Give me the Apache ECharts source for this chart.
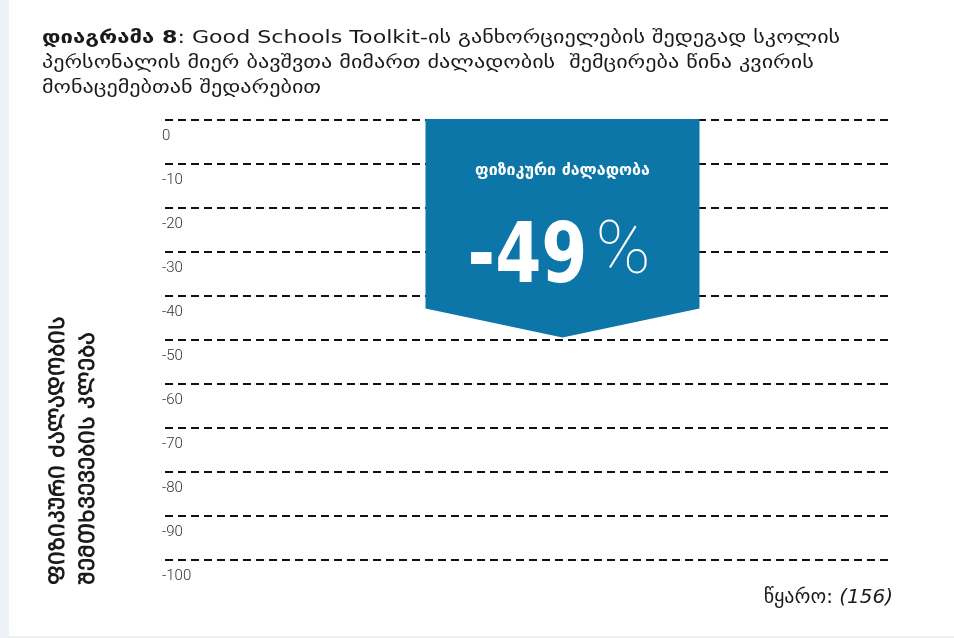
<!DOCTYPE html>
<html>
<head>
<meta charset="utf-8">
<script src="https://cdn.jsdelivr.net/npm/echarts@6/dist/echarts.min.js"></script>
<style>html,body{margin:0;padding:0;background:#fff}#c{width:954px;height:638px}</style>
</head>
<body>
<div id="c"></div>
<script>
var categories = ['ფიზიკური ძალადობა'];
var values = [-49];
var yTicks = [0, -10, -20, -30, -40, -50, -60, -70, -80, -90, -100];
var titleBold = 'დიაგრამა 8';
var titleLines = [
  ': Good Schools Toolkit-ის განხორციელების შედეგად სკოლის',
  'პერსონალის მიერ ბავშვთა მიმართ ძალადობის  შემცირება წინა კვირის',
  'მონაცემებთან შედარებით'
];
var yTitleLines = ['ᲤᲘᲖᲘᲙᲣᲠᲘ ᲫᲐᲚᲐᲓᲝᲑᲘᲡ', 'ᲨᲔᲛᲗᲮᲕᲔᲕᲔᲑᲘᲡ ᲙᲚᲔᲑᲐ'];
var sourceLabel = 'წყარო: ';
var sourceRef = '(156)';

var chart = echarts.init(document.getElementById('c'), null, {renderer: 'canvas'});
var geoFont = '"DejaVu Sans", "Noto Sans", sans-serif';

var option = {
  backgroundColor: '#fff',
  animation: false,
  grid: {left: 165, right: 66, top: 120, bottom: 78, containLabel: false},
  xAxis: {
    type: 'category', data: categories,
    axisLine: {show: false}, axisTick: {show: false}, axisLabel: {show: false}, splitLine: {show: false}
  },
  yAxis: {
    type: 'value', min: -100, max: 0, interval: 10,
    axisLine: {show: false}, axisTick: {show: false},
    axisLabel: {
      inside: true, margin: -3, align: 'left', verticalAlign: 'top', padding: [9, 0, 0, 0],
      color: '#333', fontSize: 15, fontFamily: 'Roboto', fontWeight: 300,
      formatter: function (v) { return yTicks.indexOf(v) >= 0 ? String(v) : ''; }
    },
    splitLine: {show: true, lineStyle: {color: '#111', width: 2, type: [8, 5]}}
  },
  series: [{
    type: 'custom',
    data: categories.map(function (c, i) { return [i, values[i]]; }),
    z: 5,
    renderItem: function (params, api) {
      var top = api.coord([api.value(0), 0]);
      var tip = api.coord([api.value(0), api.value(1)]);
      var cx = top[0] + 36, half = 137;
      var y0 = top[1] - 1, tipY = tip[1] + 2, yb = tipY - 29;
      var v = api.value(1);
      return {
        type: 'group',
        children: [
          {type: 'polygon', shape: {points: [[cx - half, y0], [cx + half, y0], [cx + half, yb], [cx, tipY], [cx - half, yb]]},
           style: {fill: '#0c76a8'}},
          {type: 'text', x: cx, y: y0 + 52, style: {text: categories[params.dataIndex], fill: '#fff', font: 'bold 16px ' + geoFont, align: 'center', verticalAlign: 'middle'}},
          {type: 'text', x: cx + 25, y: y0 + 141, scaleX: 0.79, style: {
            text: String(v), fill: '#fff', font: 'bold 84px "DejaVu Sans", Roboto', align: 'right', verticalAlign: 'middle'
          }},
          {type: 'text', x: cx + 33, y: y0 + 135, style: {
            text: '%', fill: '#fff', font: '100 74px Roboto', align: 'left', verticalAlign: 'middle'
          }}
        ]
      };
    }
  }],
  graphic: [
    {type: 'rect', left: 0, top: 0, shape: {width: 9, height: 638}, style: {fill: '#eef2f8'}, silent: true},
    {type: 'rect', left: 0, top: 636, shape: {width: 954, height: 2}, style: {fill: '#f0f0f0'}, silent: true},
    {type: 'text', x: 42, y: 26, scaleX: 1.23, style: {
      text: '{b|' + titleBold + '}' + titleLines[0] + '\n' + titleLines[1] + '\n' + titleLines[2],
      font: '18px ' + geoFont, fill: '#1a1a1a', lineHeight: 25,
      rich: {b: {fontWeight: 'bold', fontSize: 18, fontFamily: geoFont, fill: '#1a1a1a', lineHeight: 25}}
    }},
    {type: 'text', x: 58, y: 585, rotation: Math.PI / 2, style: {
      text: yTitleLines[0], font: 'bold 21.5px ' + geoFont, fill: '#1a1a1a', align: 'left', verticalAlign: 'middle'
    }},
    {type: 'text', x: 88, y: 585, rotation: Math.PI / 2, style: {
      text: yTitleLines[1], font: 'bold 21.5px ' + geoFont, fill: '#1a1a1a', align: 'left', verticalAlign: 'middle'
    }},
    {type: 'text', x: 893, y: 598, style: {
      text: sourceLabel + '{i|' + sourceRef + '}', font: '20px ' + geoFont, fill: '#1a1a1a', align: 'right', verticalAlign: 'middle',
      rich: {i: {fontStyle: 'italic', fontSize: 20, fontFamily: geoFont, fill: '#1a1a1a'}}
    }}
  ]
};
chart.setOption(option);
</script>
</body>
</html>
